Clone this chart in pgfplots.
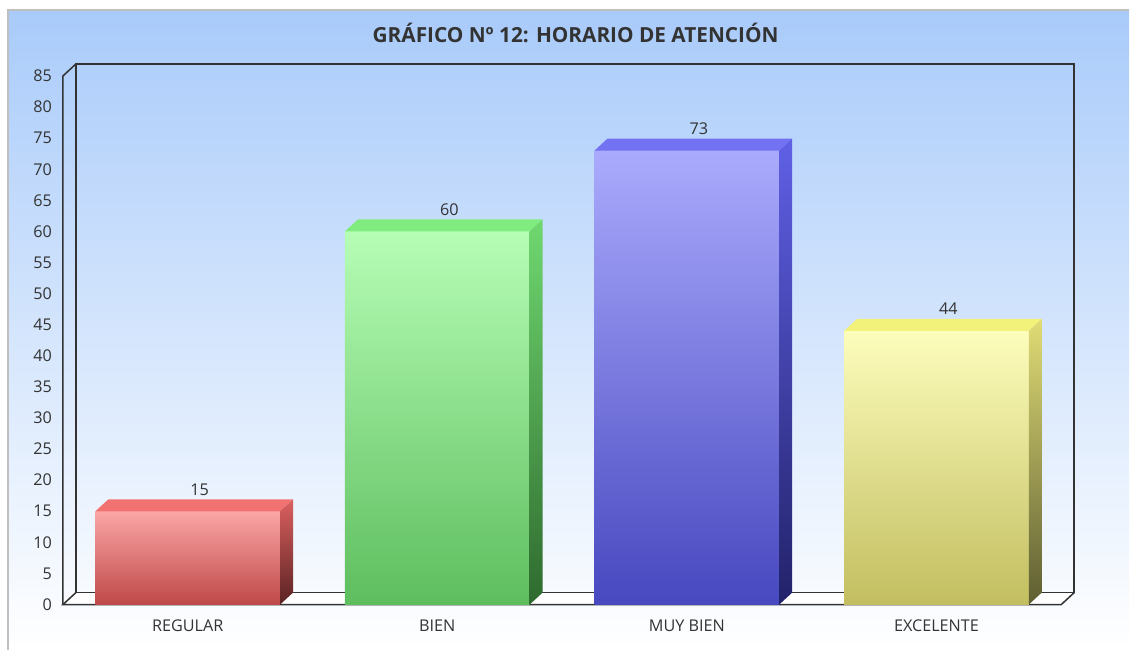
\documentclass[border=0pt]{standalone}
\usepackage{fontspec}
\setmainfont{Open Sans}
\usepackage{pgfplots}
\pgfplotsset{compat=1.18}

\definecolor{bgtop}{HTML}{A9CBFA}
\definecolor{frame}{HTML}{333333}
\definecolor{txt}{HTML}{333333}
% front top / front bottom / top face / side top / side bottom
\definecolor{rA}{HTML}{FBA6A6}\definecolor{rB}{HTML}{BF4848}\definecolor{rT}{HTML}{F27272}\definecolor{rS}{HTML}{DC6060}\definecolor{rD}{HTML}{5A2222}
\definecolor{gA}{HTML}{B6FDB6}\definecolor{gB}{HTML}{5EBE5E}\definecolor{gT}{HTML}{80EC80}\definecolor{gS}{HTML}{70D870}\definecolor{gD}{HTML}{2E6A2E}
\definecolor{bA}{HTML}{AAAAFD}\definecolor{bB}{HTML}{4848C0}\definecolor{bT}{HTML}{7272F2}\definecolor{bS}{HTML}{6060E6}\definecolor{bD}{HTML}{22226A}
\definecolor{yA}{HTML}{FDFDBC}\definecolor{yB}{HTML}{C2BE60}\definecolor{yT}{HTML}{F2F27A}\definecolor{yS}{HTML}{E0DC76}\definecolor{yD}{HTML}{5E5E32}

% 1px = 0.5pt ; depth of the 3d effect
\def\dx{6.5pt}
\def\dy{6pt}
\def\bw{46.2}     % half bar width, pt
\def\yu{3.1118}   % pt per unit on y

\pgfplotsset{
  front/.style 2 args={ybar, bar width=0.74, bar shift=0pt, draw=none,
    top color=#1, bottom color=#2,
    nodes near coords,
    nodes near coords style={font=\fontsize{8.1}{10}\selectfont, text=txt,
      anchor=south, xshift=6pt, yshift=4.5pt}},
  faces/.style n args={3}{only marks, scatter, mark=*, mark size=0pt,
    visualization depends on={rawy \as \ry},
    scatter/@pre marker code/.code={
      \pgfmathsetmacro\hh{\ry*\yu}
      \fill[#1, draw=none] (-\bw pt,0pt) -- (\bw pt,0pt) -- (\bw pt+\dx,\dy) -- (-\bw pt+\dx,\dy) -- cycle;
      \shade[draw=none, top color=#2, bottom color=#3] (\bw pt,0pt) -- (\bw pt+\dx,\dy)
        -- (\bw pt+\dx,\dy-\hh pt) -- (\bw pt,-\hh pt) -- cycle;
      \scope[opacity=0]
    },
    scatter/@post marker code/.code={\endscope}},
}

\begin{document}
\begin{tikzpicture}
\fill[white] (0,0) rectangle (565pt,325pt);
\shade[top color=bgtop, bottom color=white] (4pt,0) rectangle (565pt,320pt);
\draw[black!25, line width=0.8pt] (4pt,0) -- (4pt,320pt) -- (565pt,320pt);
\node[font=\bfseries\fontsize{10.4}{12}\selectfont, text=txt] at (288pt,308.5pt)
  {GRÁFICO Nº 12: HORARIO DE ATENCIÓN};

\begin{axis}[
  at={(31.5pt,22.5pt)}, anchor=south west,
  scale only axis, width=499.5pt, height=264.5pt,
  xmin=-0.5, xmax=3.5, ymin=0, ymax=85,
  xtick={0,1,2,3},
  xticklabels={REGULAR,BIEN,MUY BIEN,EXCELENTE},
  ytick={0,5,...,85},
  axis line style={draw=none},
  major tick length=0pt,
  tick label style={font=\fontsize{8.1}{10}\selectfont, text=txt},
  xticklabel style={anchor=base, yshift=-13.5pt},
  yticklabel style={anchor=east, xshift=-2pt},
  /pgf/number format/assume math mode=true,
  clip=false,
]
% floor and walls
\fill[white] (rel axis cs:0,0) -- (rel axis cs:1,0)
  -- ([xshift=\dx,yshift=\dy]rel axis cs:1,0) -- ([xshift=\dx,yshift=\dy]rel axis cs:0,0) -- cycle;
\draw[frame, line width=0.75pt] ([xshift=\dx,yshift=\dy]rel axis cs:0,0)
  -- ([xshift=\dx,yshift=\dy]rel axis cs:1,0) -- ([xshift=\dx,yshift=\dy]rel axis cs:1,1)
  -- ([xshift=\dx,yshift=\dy]rel axis cs:0,1) -- cycle;
\draw[frame, line width=0.75pt] ([xshift=\dx,yshift=\dy]rel axis cs:1,0)
  -- (rel axis cs:1,0) -- (rel axis cs:0,0) -- ([xshift=\dx,yshift=\dy]rel axis cs:0,0);
\draw[frame, line width=0.75pt] (rel axis cs:0,0) -- (rel axis cs:0,1)
  -- ([xshift=\dx,yshift=\dy]rel axis cs:0,1);

\addplot[front={rA}{rB}] coordinates {(0,15)};
\addplot[faces={rT}{rS}{rD}] coordinates {(0,15)};
\addplot[front={gA}{gB}] coordinates {(1,60)};
\addplot[faces={gT}{gS}{gD}] coordinates {(1,60)};
\addplot[front={bA}{bB}] coordinates {(2,73)};
\addplot[faces={bT}{bS}{bD}] coordinates {(2,73)};
\addplot[front={yA}{yB}] coordinates {(3,44)};
\addplot[faces={yT}{yS}{yD}] coordinates {(3,44)};
\end{axis}
\end{tikzpicture}
\end{document}
